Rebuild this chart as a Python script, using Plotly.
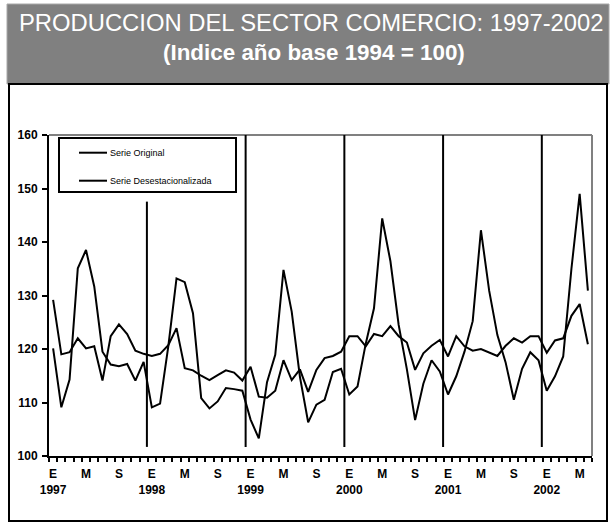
import plotly.graph_objects as go

# --- datos (indice 1994 = 100), enero 1997 - junio 2002
anios = ["1997", "1998", "1999", "2000", "2001", "2002"]
meses = ["E", "F", "M", "A", "M", "J", "J", "A", "S", "O", "N", "D"]

serie_original = [
    120.1, 109.1, 114.3, 135.1, 138.5, 131.7, 119.5, 117.1, 116.8, 117.2, 114.1, 117.6,
    109.1, 109.8, 120.5, 133.2, 132.5, 126.7, 110.8, 108.9, 110.2, 112.7, 112.5, 112.2,
    106.8, 103.3, 113.8, 118.9, 134.8, 127.0, 114.8, 106.3, 109.6, 110.5, 115.7, 116.3,
    111.5, 113.0, 121.0, 127.6, 144.4, 136.4, 124.5, 116.2, 106.7, 113.5, 117.9, 115.8,
    111.5, 114.9, 119.5, 125.2, 142.2, 130.9, 122.6, 117.5, 110.5, 116.3, 119.4, 117.9,
    112.2, 114.9, 118.6, 135.0, 149.0, 130.9,
]
serie_desest = [
    129.2, 119.0, 119.4, 122.0, 120.1, 120.5, 114.1, 122.4, 124.6, 122.8, 119.7, 119.1,
    118.7, 119.1, 120.7, 123.9, 116.4, 116.0, 115.0, 114.2, 115.1, 116.0, 115.6, 114.1,
    116.7, 111.1, 110.9, 112.2, 117.9, 114.2, 116.2, 112.0, 116.1, 118.3, 118.7, 119.5,
    122.4, 122.4, 120.5, 122.8, 122.4, 124.3, 122.4, 121.2, 116.1, 119.2, 120.6, 121.7,
    118.6, 122.4, 120.5, 119.7, 120.0, 119.3, 118.7, 120.6, 122.0, 121.2, 122.4, 122.4,
    119.3, 121.6, 122.0, 126.2, 128.4, 120.9,
]

W, H = 611, 530
ML, MR, MT, MB = 49, 19, 135, 74
PW, PH = W - ML - MR, H - MT - MB
SANS = "Liberation Sans, Arial, sans-serif"


def px(x):
    return (x - ML) / PW


def py(y):
    return 1 - (y - MT) / PH


n = len(serie_original)
x = list(range(n))
periodos = [f"{meses[k % 12]} {anios[k // 12]}" for k in range(n)]

tick_idx = [k for k in range(n) if k % 4 == 0]
tick_txt = [meses[k % 12] + ("<br>" + anios[k // 12] if k % 12 == 0 else "") for k in tick_idx]

fig = go.Figure()
for nombre, valores in [("Serie Original", serie_original), ("Serie Desestacionalizada", serie_desest)]:
    fig.add_trace(
        go.Scatter(
            x=x,
            y=valores,
            text=periodos,
            mode="lines",
            line=dict(color="black", width=2),
            name=nombre,
            hovertemplate="%{text}: %{y}<extra>" + nombre + "</extra>",
        )
    )

shapes = []
# caja del titulo y marco exterior
shapes.append(dict(type="rect", xref="paper", yref="paper", x0=px(7), x1=px(609), y0=py(84), y1=py(4),
                   fillcolor="#808080", line=dict(color="#a8a8a8", width=1)))
shapes.append(dict(type="rect", xref="paper", yref="paper", x0=px(9), x1=px(607), y0=py(521), y1=py(84),
                   line=dict(color="black", width=2)))
# borde gris superior y derecho del area de trazado
shapes.append(dict(type="line", xref="paper", yref="paper", x0=0, x1=1, y0=1, y1=1,
                   line=dict(color="#808080", width=2)))
shapes.append(dict(type="line", xref="paper", yref="paper", x0=1, x1=1, y0=0, y1=1,
                   line=dict(color="#808080", width=2)))

# leyenda dibujada a mano
leg = dict(x0=59, x1=236, y0=138, y1=192)
shapes.append(dict(type="rect", xref="paper", yref="paper", x0=px(leg["x0"]), x1=px(leg["x1"]),
                   y0=py(leg["y1"]), y1=py(leg["y0"]), fillcolor="white", line=dict(color="black", width=2)))
annotations = []
for j, tr in enumerate(fig.data):
    yy = 152.7 + 28 * j
    shapes.append(dict(type="line", xref="paper", yref="paper", x0=px(79), x1=px(107), y0=py(yy), y1=py(yy),
                       line=dict(color="black", width=2)))
    annotations.append(dict(xref="paper", yref="paper", x=px(108), y=py(yy), text=tr.name, showarrow=False,
                            xanchor="left", yanchor="middle", font=dict(family=SANS, size=9, color="black")))

# separadores de anio
leg_bottom = 160 - (leg["y1"] - MT) / PH * 60
for k in range(12, n, 12):
    xb = k - 0.6
    top = leg_bottom - 1.8 if px(leg["x0"]) <= (xb + 0.5) / n <= px(leg["x1"]) else 160
    shapes.append(dict(type="line", xref="x", yref="y", x0=xb, x1=xb, y0=101.7, y1=top,
                       line=dict(color="black", width=2)))

annotations.append(dict(xref="paper", yref="paper", x=px(311), y=py(22), text="PRODUCCION DEL SECTOR COMERCIO: 1997-2002",
                        showarrow=False, xanchor="center", yanchor="middle",
                        font=dict(family=SANS, size=23.8, color="white")))
annotations.append(dict(xref="paper", yref="paper", x=px(314), y=py(52), text="(Indice año base 1994 = 100)",
                        showarrow=False, xanchor="center", yanchor="middle",
                        font=dict(family=SANS, size=22.4, color="white", weight="bold")))

fig.update_layout(
    width=W,
    height=H,
    margin=dict(l=ML, r=MR, t=MT, b=MB),
    paper_bgcolor="white",
    plot_bgcolor="white",
    showlegend=False,
    shapes=shapes,
    annotations=annotations,
    xaxis=dict(
        range=[-0.5, n - 0.5],
        tickmode="array",
        tickvals=tick_idx,
        ticktext=tick_txt,
        ticks="",
        ticklabelstandoff=6,
        tickfont=dict(family=SANS, size=12, color="black", weight="bold"),
        showline=True,
        linecolor="black",
        linewidth=2,
        showgrid=False,
        zeroline=False,
        minor=dict(tickmode="array", tickvals=[k - 0.5 for k in range(n + 1)], ticks="outside",
                   ticklen=4, tickwidth=2, tickcolor="black", showgrid=False),
    ),
    yaxis=dict(
        range=[100, 160],
        dtick=10,
        ticks="outside",
        ticklen=5,
        tickwidth=2,
        tickcolor="black",
        ticklabelstandoff=2,
        tickfont=dict(family=SANS, size=12, color="black", weight="bold"),
        showline=True,
        linecolor="black",
        linewidth=2,
        showgrid=False,
        zeroline=False,
    ),
)

fig.write_html("out.html", config={"displayModeBar": False},
               post_script="document.body.style.margin='0';")
